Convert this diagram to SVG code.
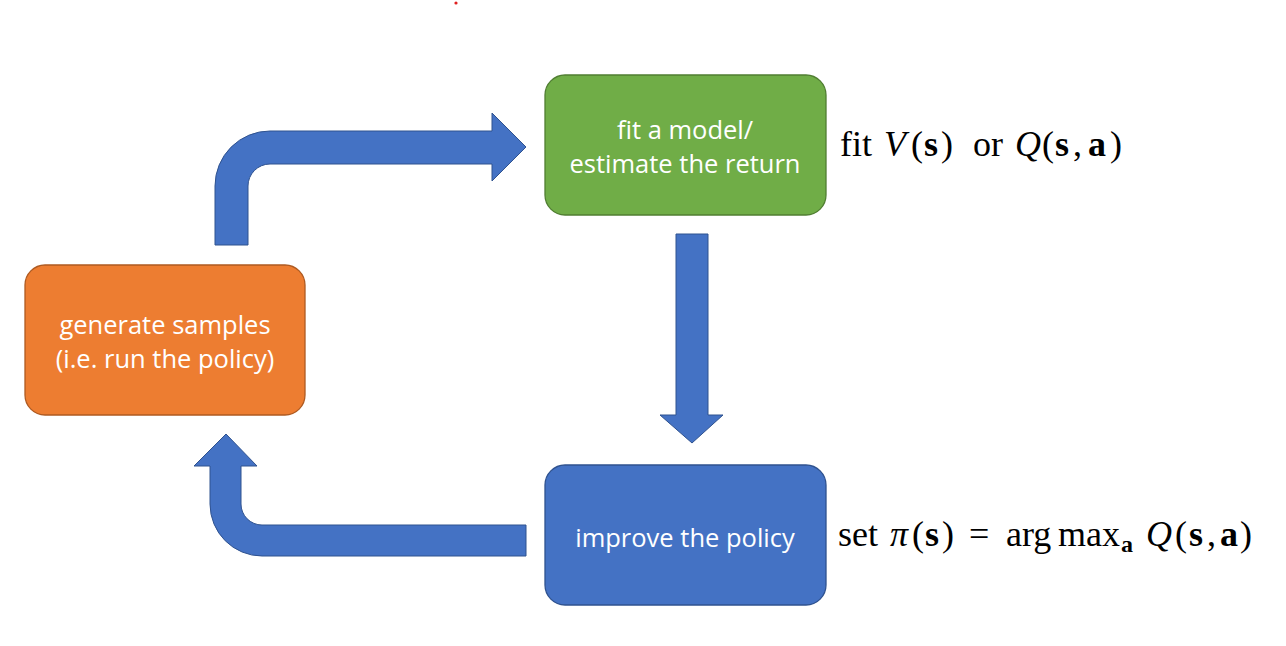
<svg xmlns="http://www.w3.org/2000/svg" width="1286" height="646" viewBox="0 0 1286 646">
<style>
.box{stroke-width:1.3}
.lbl{font-family:"Open Sans","Liberation Sans",sans-serif;font-size:25.5px;fill:#fff;text-anchor:middle}
.arr{fill:#4472C4;stroke:#2F528F;stroke-width:1}
.math{font-family:"Liberation Serif","DejaVu Serif",serif;font-size:36px;fill:#000}
.it{font-style:italic}
.bf{font-weight:bold}
</style>
<rect width="1286" height="646" fill="#fff"/>
<circle cx="456" cy="3" r="1.6" fill="#e02020"/>
<g id="connectors">
<path class="arr" d="M215,245 L215,186 A55,55 0 0 1 270,131 L492,131 L492,113 L526,147 L492,181 L492,164 L270,164 A22,22 0 0 0 248,186 L248,245 Z"/>
<path class="arr" d="M676,234 L708,234 L708,415 L723,415 L692,443 L660,415 L676,415 Z"/>
<path class="arr" d="M526,525 L262,525 A21,21 0 0 1 241,504 L241,466 L257,466 L226,434 L194,466 L210,466 L210,504 A52,52 0 0 0 262,556 L526,556 Z"/>
</g>
<g id="node-generate">
<rect class="box" x="25" y="265" width="280" height="150" rx="20" fill="#ED7D31" stroke="#AE5A21"/>
<text class="lbl" x="165" y="334">generate samples</text>
<text class="lbl" x="165" y="368">(i.e. run the policy)</text>
</g>
<g id="node-fit">
<rect class="box" x="545" y="75" width="281" height="140" rx="20" fill="#70AD47" stroke="#507E32"/>
<text class="lbl" x="685" y="139">fit a model/</text>
<text class="lbl" x="685" y="173">estimate the return</text>
</g>
<g id="node-improve">
<rect class="box" x="545" y="465" width="281" height="140" rx="20" fill="#4472C4" stroke="#2F528F"/>
<text class="lbl" x="685" y="547">improve the policy</text>
</g>
<g id="label-fit">
<text class="math" y="156"><tspan x="840">fit</tspan><tspan class="it" x="884">V</tspan><tspan x="911">(</tspan><tspan class="bf" x="924">s</tspan><tspan x="941">)</tspan><tspan x="973">or</tspan><tspan class="it" x="1015">Q</tspan><tspan x="1042">(</tspan><tspan class="bf" x="1055">s</tspan><tspan x="1073">,</tspan><tspan class="bf" x="1088">a</tspan><tspan x="1110">)</tspan></text>
</g>
<g id="label-set">
<text class="math" y="546"><tspan x="838">set</tspan><tspan class="it" x="890">π</tspan><tspan x="912">(</tspan><tspan class="bf" x="925">s</tspan><tspan x="942">)</tspan><tspan x="969">=</tspan><tspan x="1006">arg</tspan><tspan x="1058">max</tspan><tspan class="bf" x="1121" font-size="24" dy="6">a</tspan><tspan class="it" x="1146" dy="-6">Q</tspan><tspan x="1175">(</tspan><tspan class="bf" x="1189">s</tspan><tspan x="1207">,</tspan><tspan class="bf" x="1220">a</tspan><tspan x="1240">)</tspan></text>
</g>
</svg>
